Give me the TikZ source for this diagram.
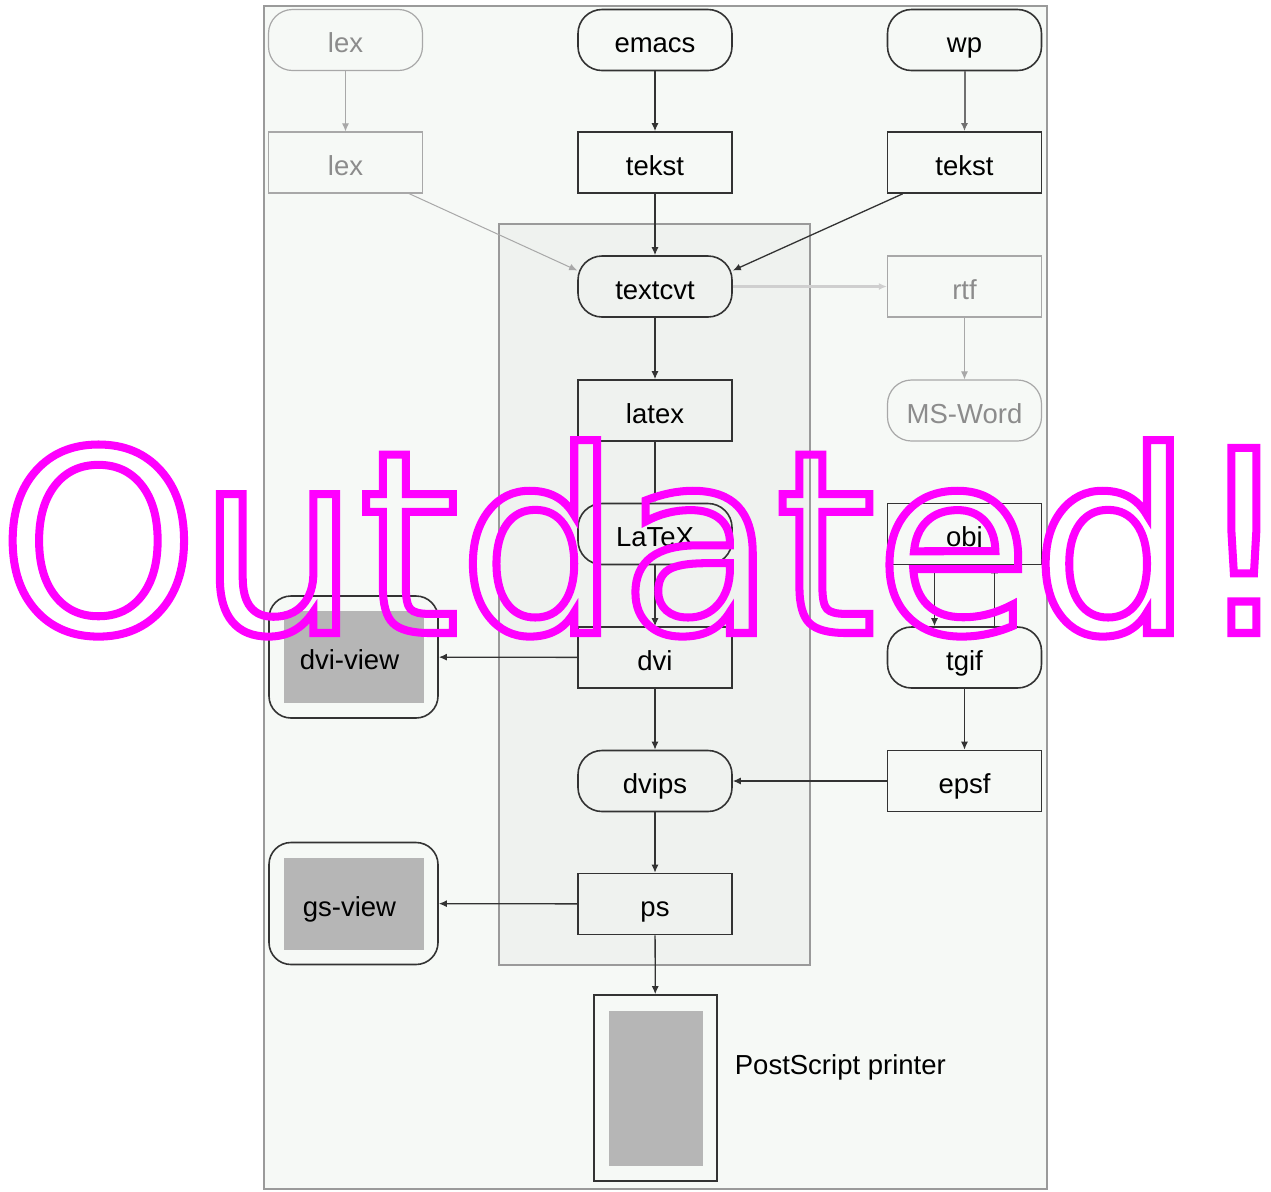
\documentclass[tikz,border=0pt]{standalone}
\usepackage{fontspec}
\setmainfont{Liberation Sans}
\newfontfamily\stampfont{DejaVu Sans}
\usepackage{tikz}
\usetikzlibrary{arrows.meta,positioning}
\tikzset{
every node/.style={font=\fontsize{13.75}{16}\selectfont},
pill/.style= {rectangle, rounded corners=12pt, draw=Edge, line width=0.8pt, minimum width=77pt, minimum height=30.5pt, text height=12.5pt, text depth=0pt},
box/.style= {rectangle, draw=Edge, line width=0.8pt, minimum width=77pt, minimum height=30.5pt, text height=12.5pt, text depth=0pt},
faint/.style= {draw=Faint, text=FaintText, line width=0.6pt},
view/.style= {rectangle, rounded corners=11pt, draw=Edge, line width=0.8pt, minimum width=84.5pt, minimum height=61pt},
screen/.style= {rectangle, fill=Screen, minimum width=70pt, minimum height=46pt, text height=12.5pt, text depth=0pt},
arr/.style= {-{Latex[length=4pt,width=3.5pt]}, draw=Edge, line width=0.65pt},
faintarr/.style= {arr, draw=Faint, line width=0.5pt},
node distance = 5pt
}
\definecolor{Edge}{HTML}{333333}
\definecolor{Faint}{HTML}{A8A8A8}
\definecolor{FaintText}{HTML}{8C8C8C}
\definecolor{Screen}{HTML}{B6B6B6}
\definecolor{Paper}{HTML}{F6F9F6}
\definecolor{Panel}{HTML}{EFF2EF}
\definecolor{Frame}{HTML}{9A9A9A}
\definecolor{Stamp}{HTML}{FF00FF}

\begin{document}
\begin{tikzpicture}[x=0.5pt, y=-0.5pt]
    \useasboundingbox (0,0) rectangle (1271,1191);
    \draw[Frame, fill=Paper, line width=1pt] (264,6) rectangle (1047,1189);
    \draw[Frame, fill=Panel, line width=0.8pt] (499,224) rectangle (810,965);

    \node[pill,faint] (lexa) at (345.5,40) {lex};
    \node[pill] (emacs) at (655,40) {emacs};
    \node[pill] (wp) at (964.5,40) {wp};
    \node[box,faint] (lexb) at (345.5,162.5) {lex};
    \node[box] (tekstA) at (655,162.5) {tekst};
    \node[box] (tekstB) at (964.5,162.5) {tekst};
    \node[pill] (textcvt) at (655,286.5) {textcvt};
    \node[box,faint] (rtf) at (964.5,286.5) {rtf};
    \node[box] (latex) at (655,410.5) {latex};
    \node[pill,faint] (msword) at (964.5,410.5) {MS-Word};
    \node[pill] (LaTeX) at (655,534) {LaTeX};
    \node[box] (obj) at (964.5,534) {obj};
    \node[box] (dvi) at (655,657.5) {dvi};
    \node[pill] (tgif) at (964.5,657.5) {tgif};
    \node[pill] (dvips) at (655,781) {dvips};
    \node[box] (epsf) at (964.5,781) {epsf};
    \node[box] (ps) at (655,904) {ps};

    \node[view] (dviview) at (353.5,657) {};
    \node[screen] at (dviview) {\hspace*{-4pt}dvi-view};
    \node[view] (gsview) at (353.5,903.5) {};
    \node[screen] at (gsview) {\hspace*{-4pt}gs-view};

    \node[rectangle, draw=Edge, line width=0.8pt, minimum width=61.5pt, minimum height=93pt] (printer) at (655.5,1088) {};
    \node[screen, minimum width=47pt, minimum height=77.5pt] at (printer) {};
    \node[right=5pt of printer, yshift=13pt, text height=12.5pt, text depth=0pt] (printerlabel) {PostScript printer};

    \draw[faintarr] (lexa) -- (lexb);
    \draw[arr] (emacs) -- (tekstA);
    \draw[arr, draw=Edge!70, line width=1pt] (wp) -- (tekstB);
    \draw[faintarr] ([xshift=-7pt]lexb.south east) -- ([yshift=8pt]textcvt.west);
    \draw[arr] (tekstA) -- (textcvt);
    \draw[arr] ([xshift=8pt]tekstB.south west) -- ([yshift=8pt]textcvt.east);
    \draw[faintarr, draw=Faint!55, line width=1.6pt] (textcvt) -- (rtf);
    \draw[faintarr] (rtf) -- (msword);
    \draw[arr] (textcvt) -- (latex);
    \draw[arr] (latex) -- (LaTeX);
    \draw[arr] (LaTeX) -- (dvi);
    \draw[arr] (dvi) -- (dviview);
    \draw[arr] (dvi) -- (dvips);
    \draw[arr] ([xshift=-15pt]obj.south) -- ([xshift=-15pt]tgif.north);
    \draw[arr] ([xshift=15pt]tgif.north) -- ([xshift=15pt]obj.south);
    \draw[arr] (tgif) -- (epsf);
    \draw[arr] (epsf) -- (dvips);
    \draw[arr] (dvips) -- (ps);
    \draw[arr] (ps) -- (gsview);
    \draw[arr] (ps) -- (printer);

    \node[anchor=base west, inner sep=0pt, text=Stamp] (stamp) at (-2,633) {\stampfont\fontsize{127}{127}\selectfont\special{pdf:code q 1 Tr 4 w}Outdated!\special{pdf:code Q}};
\end{tikzpicture}
\end{document}
